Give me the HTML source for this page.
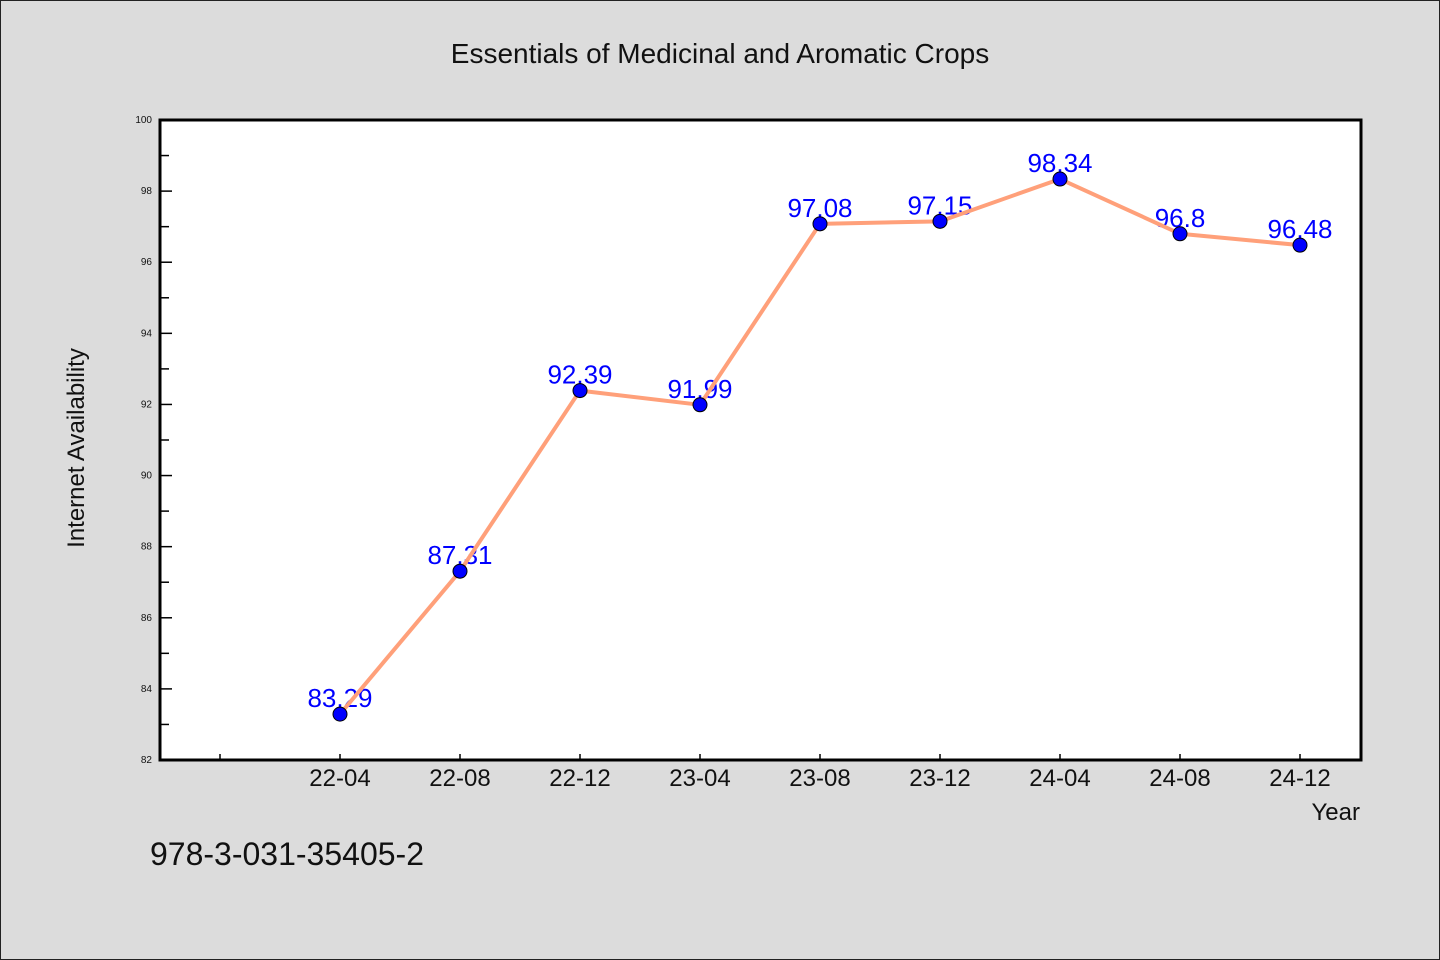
<!DOCTYPE html>
<html><head><meta charset="utf-8"><style>
html,body{margin:0;padding:0;background:#dcdcdc;}
svg{display:block;font-family:"WenQuanYi Zen Hei","Liberation Sans",sans-serif;}
</style></head><body>
<svg id="chart" width="1440" height="960" viewBox="0 0 1440 960">
<rect x="0.5" y="0.5" width="1439" height="959" fill="#dcdcdc" stroke="#222"/>
<text x="720" y="63" text-anchor="middle" font-size="28" fill="#111">Essentials of Medicinal and Aromatic Crops</text>
<rect x="160" y="120" width="1201" height="640" fill="#fff"/>
<g id="yaxis"></g>
<g id="xaxis"></g>
<g id="series"></g>
<rect x="160" y="120" width="1201" height="640" fill="none" stroke="#000" stroke-width="3"/>
<text transform="translate(84,448) rotate(-90)" text-anchor="middle" font-size="24" fill="#111">Internet Availability</text>
<text x="1360" y="820" text-anchor="end" font-size="24" fill="#111">Year</text>
<text x="150" y="865" font-size="32" fill="#111">978-3-031-35405-2</text>
</svg>
<script>
const categories=["22-04","22-08","22-12","23-04","23-08","23-12","24-04","24-08","24-12"];
const values=[83.29,87.31,92.39,91.99,97.08,97.15,98.34,96.8,96.48];
const valueLabels=["83.29","87.31","92.39","91.99","97.08","97.15","98.34","96.8","96.48"];
const yTicks=[82,84,86,88,90,92,94,96,98,100];
const yMin=82,yMax=100;
const NS="http://www.w3.org/2000/svg";
function y(v){return 760-(v-yMin)/(yMax-yMin)*640;}
function x(i){return 340+i*120;}
function mk(t,a,p){const e=document.createElementNS(NS,t);for(const k in a)e.setAttribute(k,a[k]);p.appendChild(e);return e;}
const ya=document.getElementById('yaxis'),xa=document.getElementById('xaxis'),se=document.getElementById('series');
yTicks.forEach((v,i)=>{
 const l=mk('line',{x1:160,x2:172,y1:y(v),y2:y(v),stroke:'#000','stroke-width':1.5},ya);
 
 
 const t=mk('text',{x:152,y:y(v)+3,'text-anchor':'end','font-size':10,fill:'#111'},ya);
 t.textContent=v;
 
 
 if(i<yTicks.length-1){
  const m=mk('line',{x1:160,x2:169,y1:y(v+1),y2:y(v+1),stroke:'#000','stroke-width':1.5},ya);
  
  
 }
});
const t0=mk('line',{x1:220,x2:220,y1:760,y2:754,stroke:'#000','stroke-width':1.5},xa);


categories.forEach((c,i)=>{
 const l=mk('line',{x1:x(i),x2:x(i),y1:760,y2:754,stroke:'#000','stroke-width':1.5},xa);
 
 
 const t=mk('text',{x:x(i),y:786,'text-anchor':'middle','font-size':24,fill:'#111'},xa);
 t.textContent=c;
 
 
});
values.forEach((v,i)=>{
 const t=mk('text',{x:x(i),y:y(v)-7,'text-anchor':'middle','font-size':26,fill:'#0000ff'},se);
 t.textContent=valueLabels[i];
 
 
});
const pl=mk('polyline',{points:values.map((v,i)=>x(i)+','+y(v)).join(' '),fill:'none',stroke:'#ffa07a','stroke-width':4,'stroke-linejoin':'round'},se);


values.forEach((v,i)=>{
 const c=mk('circle',{cx:x(i),cy:y(v),r:7,fill:'#0000ff',stroke:'#000','stroke-width':1},se);
 
 
});
</script>
</body></html>
